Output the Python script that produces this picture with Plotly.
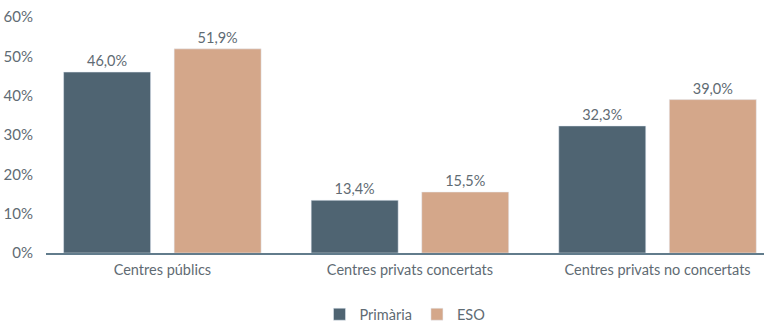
import plotly.graph_objects as go

categories = ["Centres públics", "Centres privats concertats", "Centres privats no concertats"]
primaria = [46.0, 13.4, 32.3]
eso = [51.9, 15.5, 39.0]
y_ticks = [0, 10, 20, 30, 40, 50, 60]

text_color = "#5f6b73"
font_family = "Lato, 'Noto Sans', sans-serif"

fig = go.Figure()
fig.add_trace(go.Bar(
    name="Primària", x=categories, y=primaria,
    marker_color="#4f6472",
    texttemplate="%{y:.1f}%", textposition="outside",
    textfont=dict(color=text_color, size=14.5, family=font_family),
    cliponaxis=False,
))
fig.add_trace(go.Bar(
    name="ESO", x=categories, y=eso,
    marker_color="#d4a78a",
    texttemplate="%{y:.1f}%", textposition="outside",
    textfont=dict(color=text_color, size=14.5, family=font_family),
    cliponaxis=False,
))

fig.update_layout(
    width=764, height=324,
    margin=dict(l=46, r=0, t=17, b=71),
    paper_bgcolor="white", plot_bgcolor="white",
    barmode="group", bargap=0.107, bargroupgap=0.213,
    separators=", ",
    font=dict(family=font_family, color=text_color, size=14),
    showlegend=True,
    legend=dict(orientation="h", x=0.5, xanchor="center",
                yref="container", y=0.03, yanchor="middle",
                font=dict(size=14.5, color=text_color), itemwidth=30),
    xaxis=dict(range=[-0.47, 2.43], showline=True, linecolor="#627c8c",
               linewidth=1.5, ticks="", ticklabelstandoff=3,
               tickfont=dict(size=14.5, color=text_color)),
    yaxis=dict(range=[0, 60], tickvals=y_ticks, ticktext=[f"{v}%" for v in y_ticks],
               showgrid=False, zeroline=False, showline=False,
               ticks="outside", ticklen=9, tickcolor="rgba(0,0,0,0)",
               tickfont=dict(size=15, color=text_color)),
)

fig.write_html("out.html")
